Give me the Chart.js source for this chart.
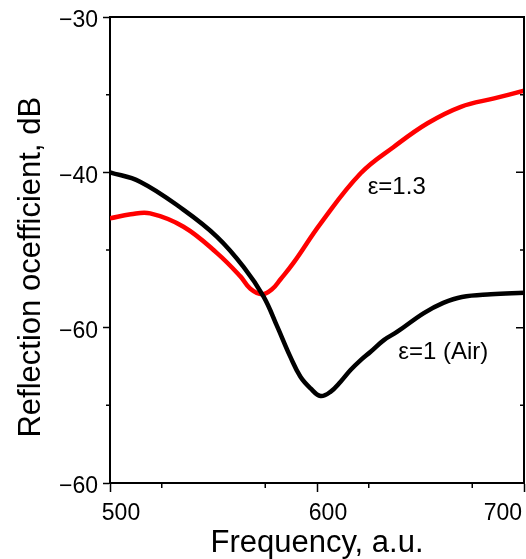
<!DOCTYPE html>
<html>
<head>
<meta charset="utf-8">
<script src="https://cdn.jsdelivr.net/npm/chart.js@4"></script>
<style>
  html, body { margin: 0; padding: 0; background: #fff; }
  #wrap { width: 526px; height: 559px; }
</style>
</head>
<body>
<div id="wrap"><canvas id="chart" width="526" height="559"></canvas></div>
<script>
'use strict';

// eps = 1 (air)
let airFreq = [500, 514.5, 535.4, 551.7, 564.6, 574.2, 580.7, 587.2, 592, 596.9, 601.7, 606.5, 611.4, 616.2, 621.1, 625.9, 632.3, 638.8, 651.6, 661, 670, 684, 700];
let airDb = [-40.0, -40.6, -42.4, -44.15, -46.1, -48.0, -49.9, -51.9, -53.16, -53.91, -54.4, -54.13, -53.48, -52.73, -52.09, -51.55, -50.8, -50.26, -49.06, -48.4, -48.02, -47.85, -47.75];

// eps = 1.3
let epsFreq = [500, 510, 519.4, 535.5, 551.7, 563, 567.8, 573.5, 578.5, 582.3, 588.8, 601.7, 621.1, 637.2, 653.4, 669.5, 685.6, 700];
let epsDb = [-42.96, -42.7, -42.64, -43.5, -45.2, -46.7, -47.5, -47.85, -47.5, -46.9, -45.8, -43.3, -40.06, -38.35, -36.84, -35.78, -35.24, -34.75];

let xTickValues = [500, 600, 700];
let xTickLabels = ['500', '600', '700'];
let yTickValues = [-60, -50, -40, -30];
let yTickLabels = ['\u221260', '\u221260', '\u221240', '\u221230'];

let curveLabels = [
  { text: '\u03b5=1.3', x: 638.5, y: -41.0 },
  { text: '\u03b5=1 (Air)', x: 661, y: -51.6 }
];

const FONT = '"Liberation Sans", Arial, sans-serif';

function toPoints(xs, ys) {
  return xs.map((x, i) => ({ x: x, y: ys[i] }));
}

let extrasPlugin = {
  id: 'extras',
  beforeDraw(chart) {
    // keep the last x label inside the canvas
    let xs = chart.scales.x;
    let items = xs.getLabelItems();
    let last = items[items.length - 1];
    if (last) {
      last.options.textAlign = 'right';
      last.options.translation[0] = xs.right - 2;
    }
  },
  afterDraw(chart) {
    let ctx = chart.ctx;
    let area = chart.chartArea;
    let xs = chart.scales.x;
    let ys = chart.scales.y;
    ctx.save();
    ctx.strokeStyle = '#000';
    ctx.lineWidth = 2;
    ctx.beginPath();
    ctx.moveTo(area.left, area.top);
    ctx.lineTo(area.right, area.top);
    ctx.lineTo(area.right, area.bottom);
    ctx.stroke();

    // minor ticks + inward ticks on the right frame
    ctx.lineWidth = 1.5;
    ctx.beginPath();
    for (let v = 525; v < 700; v += 50) {
      let px = xs.getPixelForValue(v);
      ctx.moveTo(px, area.bottom);
      ctx.lineTo(px, area.bottom + 5);
    }
    for (let v = -55; v < -30; v += 10) {
      let py = ys.getPixelForValue(v);
      ctx.moveTo(area.left, py);
      ctx.lineTo(area.left - 4, py);
      ctx.moveTo(area.right, py);
      ctx.lineTo(area.right - 4, py);
    }
    for (let v of yTickValues) {
      let py = ys.getPixelForValue(v);
      ctx.moveTo(area.right, py);
      ctx.lineTo(area.right - 8, py);
    }
    ctx.stroke();

    ctx.fillStyle = '#000';
    ctx.font = '24px ' + FONT;
    ctx.textAlign = 'center';
    ctx.textBaseline = 'middle';
    for (let lab of curveLabels) {
      ctx.fillText(lab.text, xs.getPixelForValue(lab.x), ys.getPixelForValue(lab.y));
    }
    ctx.restore();
  }
};

let config = {
  type: 'line',
  data: {
    datasets: [
      {
        label: '\u03b5=1 (Air)',
        data: toPoints(airFreq, airDb),
        borderColor: '#000000',
        borderWidth: 4.5,
        pointRadius: 0,
        tension: 0.4,
        fill: false
      },
      {
        label: '\u03b5=1.3',
        data: toPoints(epsFreq, epsDb),
        borderColor: '#ff0000',
        borderWidth: 4.5,
        pointRadius: 0,
        tension: 0.4,
        fill: false
      }
    ]
  },
  options: {
    responsive: false,
    animation: false,
    layout: { padding: { left: 0, right: 2, top: 17, bottom: 0 } },
    plugins: {
      legend: { display: false },
      tooltip: { enabled: false }
    },
    scales: {
      x: {
        type: 'linear',
        min: 500,
        max: 700,
        afterBuildTicks: scale => {
          scale.ticks = xTickValues.map(v => ({ value: v }));
        },
        afterFit: scale => {
          scale.height = 76;
          scale.paddingLeft = 0;
          scale.paddingRight = 0;
        },
        ticks: {
          color: '#000',
          font: { family: FONT, size: 23 },
          padding: 8,
          labelOffset: 11,
          maxRotation: 0,
          callback: (value) => xTickLabels[xTickValues.indexOf(value)]
        },
        grid: {
          drawOnChartArea: false,
          tickLength: 9,
          tickWidth: 1.5,
          tickColor: '#000'
        },
        border: { display: true, color: '#000', width: 2 },
        title: {
          display: true,
          text: 'Frequency, a.u.',
          color: '#000',
          font: { family: FONT, size: 31, lineHeight: 1 },
          padding: { top: 0, bottom: 0 }
        }
      },
      y: {
        type: 'linear',
        min: -60,
        max: -30,
        afterBuildTicks: scale => {
          scale.ticks = yTickValues.map(v => ({ value: v }));
        },
        afterFit: scale => {
          scale.width = 110;
          scale.paddingTop = 0;
          scale.paddingBottom = 0;
        },
        ticks: {
          color: '#000',
          font: { family: FONT, size: 23 },
          padding: 5,
          labelOffset: 4,
          callback: (value) => yTickLabels[yTickValues.indexOf(value)]
        },
        grid: {
          drawOnChartArea: false,
          tickLength: 7,
          tickWidth: 1.5,
          tickColor: '#000'
        },
        border: { display: true, color: '#000', width: 2 },
        title: {
          display: true,
          text: 'Reflection ocefficient, dB\u00a0\u00a0\u00a0\u00a0',
          color: '#000',
          font: { family: FONT, size: 31 },
          padding: { top: 13, bottom: 0 }
        }
      }
    }
  },
  plugins: [extrasPlugin]
};

let canvasElem = document.getElementById('chart');
new Chart(canvasElem, config);
</script>
</body>
</html>
